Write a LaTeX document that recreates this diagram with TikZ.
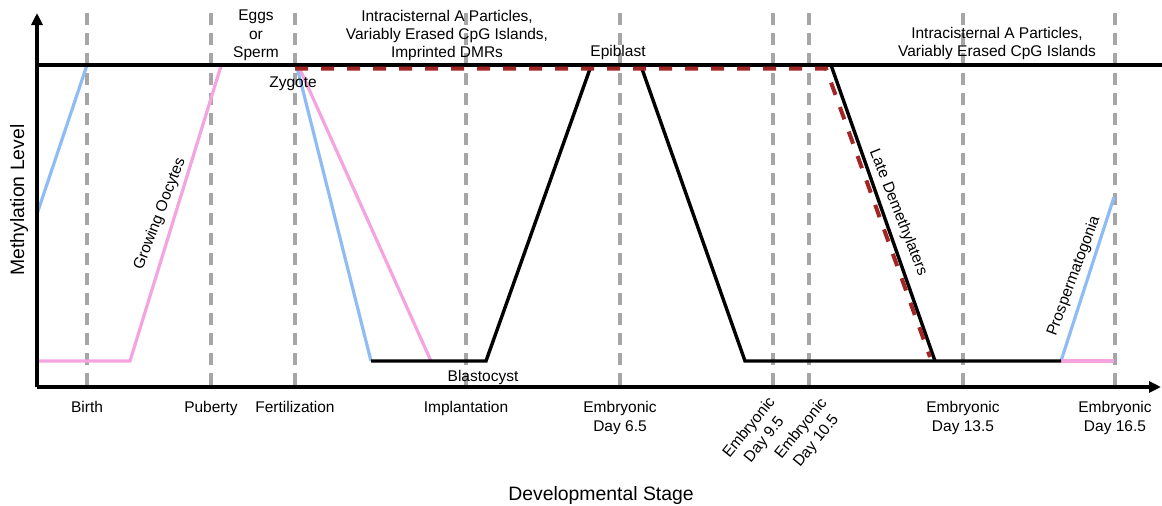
\documentclass[tikz,border=0pt]{standalone}
\usepackage{fontspec}
\setmainfont{Liberation Sans}
\usetikzlibrary{arrows.meta, positioning}

\definecolor{methblue}{RGB}{143,188,245}
\definecolor{methpink}{RGB}{244,164,222}
\definecolor{methred}{RGB}{163,38,38}
\definecolor{stagegray}{RGB}{166,166,166}

\begin{document}
\begin{tikzpicture}[x=1pt, y=-1pt,
        stageline/.style={stagegray, line width=3.2pt, dash pattern=on 12pt off 8pt},
        levelline/.style={line width=3.4pt},
        lbl/.style={font=\fontsize{15.5}{18.3}\selectfont, align=center, inner sep=0pt},
        ticklbl/.style={lbl, font=\fontsize{15.5}{19.4}\selectfont},
        axislbl/.style={font=\fontsize{19.4}{23}\selectfont, inner sep=0pt}]
    \useasboundingbox (0,0) rectangle (1162,506);

    % stage markers
    \foreach \name/\x in {birth/87, puberty/211, fert/295, implant/466, eda/620,
                          edb/773, edc/809, edd/963, ede/1115} {
        \coordinate (\name-top) at (\x,13);
        \coordinate (\name-bot) at (\x,388);
        \draw[stageline] (\name-top) -- (\name-bot);
    }

    \coordinate (origin) at (37,387);
    \coordinate (ytip) at (37,13);
    \coordinate (xtip) at (1161,387);
    \coordinate (topleft) at (37,65);
    \coordinate (topright) at (1162,65);

    % maternal / paternal curves
    \draw[methblue, line width=3.2pt] (37,214) coordinate (bl0) -- (87,65) coordinate (bl1);
    \draw[methpink, line width=3.2pt] (37,361) coordinate (pk0) -- (130,361) coordinate (pk1) -- (221,66) coordinate (pk2);
    \draw[methblue, line width=3.2pt] (297,67) coordinate (zb0) -- (371,361) coordinate (zb1);
    \draw[methpink, line width=3.2pt] (299,67) coordinate (zp0) -- (431,361) coordinate (zp1);
    \draw[methblue, line width=3.2pt] (1061,361) coordinate (pb0) -- (1114,197) coordinate (pb1);
    \draw[methpink, line width=3.2pt] (pb0) -- (1114,361) coordinate (pp1);

    % embryo curve
    \draw[levelline] (zb1) -- (486,361) coordinate (bc1) -- (591,66) coordinate (ep0);
    \draw[levelline] (641,66) coordinate (ep1) -- (745,361) coordinate (lo0) -- (pb0);
    \draw[levelline] (831,65) coordinate (ld0) -- (935,361) coordinate (ld1);
    \draw[levelline] (topleft) -- (topright);
    \draw[methred, line width=4pt, dash pattern=on 13pt off 13pt]
        (295,68.5) coordinate (rd0) -- (826,68.5) coordinate (rd1) -- (930,357) coordinate (rd2);

    % axes
    \draw[levelline, -{Triangle[length=12pt, width=11pt]}] (origin) -- (ytip);
    \draw[levelline, -{Triangle[length=12pt, width=11pt]}] (origin) -- (xtip);

    % labels on the plot
    \node[lbl, anchor=north] (eggs) at (256,9.9) {Eggs\\or\\Sperm};
    \node[lbl, anchor=north] (iapa) at (447,9.6) {Intracisternal A Particles,\\Variably Erased CpG Islands,\\Imprinted DMRs};
    \node[lbl, anchor=north] (iapb) at (997,27.2) {Intracisternal A Particles,\\Variably Erased CpG Islands};
    \node[lbl, anchor=base] (epiblast) at (618,56.7) {Epiblast};
    \node[lbl, anchor=base] (zygote) at (293,87.7) {Zygote};
    \node[lbl, anchor=base] (blastocyst) at (483,381) {Blastocyst};
    \node[lbl, rotate=69] (oocytes) at (160,214) {Growing Oocytes};
    \node[lbl, rotate=-68.5] (latedemeth) at (898,213) {Late Demethylaters};
    \node[lbl, rotate=69.7] (prosperm) at (1074,276) {Prospermatogonia};

    % stage labels
    \node[ticklbl, below=13pt of birth-bot] (birth) {Birth};
    \node[ticklbl, below=13pt of puberty-bot] (puberty) {Puberty};
    \node[ticklbl, below=13pt of fert-bot] (fert) {Fertilization};
    \node[ticklbl, below=13pt of implant-bot] (implant) {Implantation};
    \node[ticklbl, below=13pt of eda-bot] (eda) {Embryonic\\Day 6.5};
    \node[ticklbl, rotate=51] (edb) at (757,434) {Embryonic\\Day 9.5};
    \node[ticklbl, rotate=51] (edc) at (809,435) {Embryonic\\Day 10.5};
    \node[ticklbl, below=13pt of edd-bot] (edd) {Embryonic\\Day 13.5};
    \node[ticklbl, below=13pt of ede-bot] (ede) {Embryonic\\Day 16.5};

    \node[axislbl, rotate=90] (ylabel) at (19,200) {Methylation Level};
    \node[axislbl, anchor=base] (xlabel) at (601,500.5) {Developmental Stage};
\end{tikzpicture}
\end{document}
